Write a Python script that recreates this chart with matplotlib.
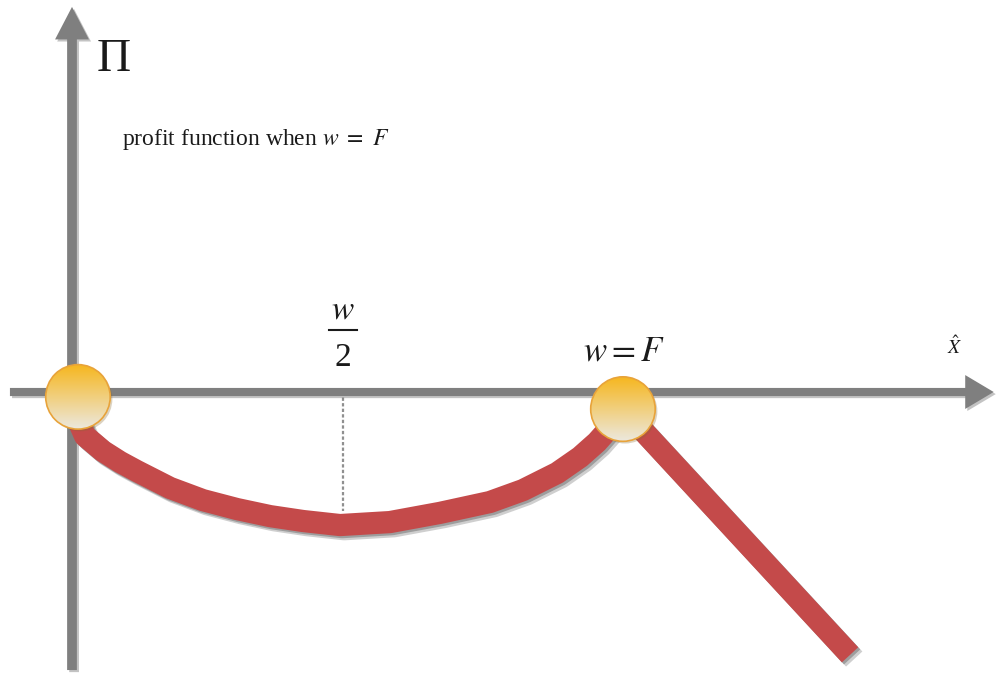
import numpy as np
import matplotlib
matplotlib.use("Agg")
import matplotlib.pyplot as plt
import matplotlib.patheffects as pe
from matplotlib.patches import Circle, FancyArrow

plt.rcParams['font.family'] = ['Liberation Serif', 'DejaVu Serif']
plt.rcParams['mathtext.fontset'] = 'stix'

# ----------------------------
# Data (x in units of w/2, so w = F sits at 2)
# ----------------------------
PROFIT_X = [0.007, 0.022, 0.048, 0.114, 0.177, 0.240, 0.362, 0.483, 0.609, 0.731,
            0.852, 0.989, 1.173, 1.358, 1.542, 1.664, 1.790, 1.875, 1.937, 1.993, 2.033]
PROFIT_Y = [-0.030, -0.103, -0.162, -0.218, -0.258, -0.292, -0.354, -0.399, -0.432, -0.458,
            -0.476, -0.491, -0.480, -0.446, -0.406, -0.362, -0.299, -0.240, -0.185, -0.122, -0.063]
TAIL_X = [2.033, 2.871]
TAIL_Y = [-0.063, -0.970]
DOT_X = [0.022, 2.033]
DOT_Y = [-0.018, -0.063]
HALF_W = 1.0
HALF_W_DEPTH = -0.44

# ----------------------------
# Look
# ----------------------------
AXIS_COLOR = '#7F7F7F'
CURVE_COLOR = '#C44A4A'
CURVE_WIDTH = 16
DOT_RADIUS = 0.119
DOT_TOP = np.array([246, 182, 28]) / 255.0
DOT_BOT = np.array([236, 232, 222]) / 255.0
DOT_EDGE = '#E8A33A'
TEXT_COLOR = '#1a1a1a'

fig = plt.figure(figsize=(9.96, 6.75), dpi=100)
ax = fig.add_axes([0, 0, 1, 1])
ax.set_axis_off()

shadow = [pe.SimplePatchShadow(offset=(1.5, -1.5), shadow_rgbFace='#555555', alpha=0.35), pe.Normal()]

# Axes arrows
ax.add_patch(FancyArrow(-0.229, 0, 3.630, 0, width=0.030, head_width=0.125, head_length=0.105,
                        length_includes_head=True, color=AXIS_COLOR, lw=0, path_effects=shadow, zorder=2))
ax.add_patch(FancyArrow(0, -1.026, 0, 2.447, width=0.036, head_width=0.125, head_length=0.12,
                        length_includes_head=True, color=AXIS_COLOR, lw=0, path_effects=shadow, zorder=2))

# dotted guide at w/2
ax.plot([HALF_W, HALF_W], [0, HALF_W_DEPTH], color='#909090', lw=1.6, ls=(0, (1.5, 1.0)), zorder=1)

# profit curve
line_fx = [pe.SimpleLineShadow(offset=(3, -3), shadow_color='#404040', alpha=0.25),
           pe.SimpleLineShadow(offset=(1.5, -1.5), shadow_color='#404040', alpha=0.35),
           pe.Normal()]
ax.plot(PROFIT_X, PROFIT_Y, color=CURVE_COLOR, lw=CURVE_WIDTH, solid_capstyle='butt',
        solid_joinstyle='round', path_effects=line_fx, zorder=3)
ax.plot(TAIL_X, TAIL_Y, color=CURVE_COLOR, lw=CURVE_WIDTH, solid_capstyle='butt',
        path_effects=line_fx, zorder=3)

# gradient dots
grad = np.linspace(0, 1, 200)[:, None]
img = DOT_TOP[None, None, :] * (1 - grad[:, :, None]) + DOT_BOT[None, None, :] * grad[:, :, None]
img = np.repeat(img, 2, axis=1)
for cx, cy in zip(DOT_X, DOT_Y):
    circ = Circle((cx, cy), DOT_RADIUS, facecolor='none', edgecolor=DOT_EDGE, lw=1.2, zorder=6)
    back = Circle((cx + 0.008, cy - 0.008), DOT_RADIUS, facecolor='#8a6a30', alpha=0.3,
                  edgecolor='none', zorder=4)
    ax.add_patch(back)
    ax.add_patch(circ)
    im = ax.imshow(img, extent=[cx - DOT_RADIUS, cx + DOT_RADIUS, cy - DOT_RADIUS, cy + DOT_RADIUS],
                   origin='upper', aspect='auto', zorder=5, interpolation='bilinear')
    im.set_clip_path(circ)

# labels
ax.text(0.155, 1.225, 'Π', fontsize=34, ha='center', va='center', color=TEXT_COLOR)
ax.text(0.185, 0.930, r'profit function when $w\ =\ F$', fontsize=17, ha='left', va='center',
        color=TEXT_COLOR)
# w/2 as a stacked fraction
ax.text(HALF_W, 0.300, r'$w$', fontsize=24, ha='center', va='center', color=TEXT_COLOR)
ax.plot([HALF_W - 0.053, HALF_W + 0.053], [0.228, 0.228], color=TEXT_COLOR, lw=1.5)
ax.text(HALF_W, 0.128, '2', fontsize=24, ha='center', va='center', color=TEXT_COLOR)
ax.text(2.037, 0.148, r'$w = F$', fontsize=25, ha='center', va='center', color=TEXT_COLOR)
ax.text(3.258, 0.166, r'$\hat{X}$', fontsize=14, ha='center', va='center', color=TEXT_COLOR)

ax.set_xlim(-72 / 271, 924 / 271)
ax.set_ylim(-283 / 271, 392 / 271)

fig.savefig('out.png', dpi=100, facecolor='white')
